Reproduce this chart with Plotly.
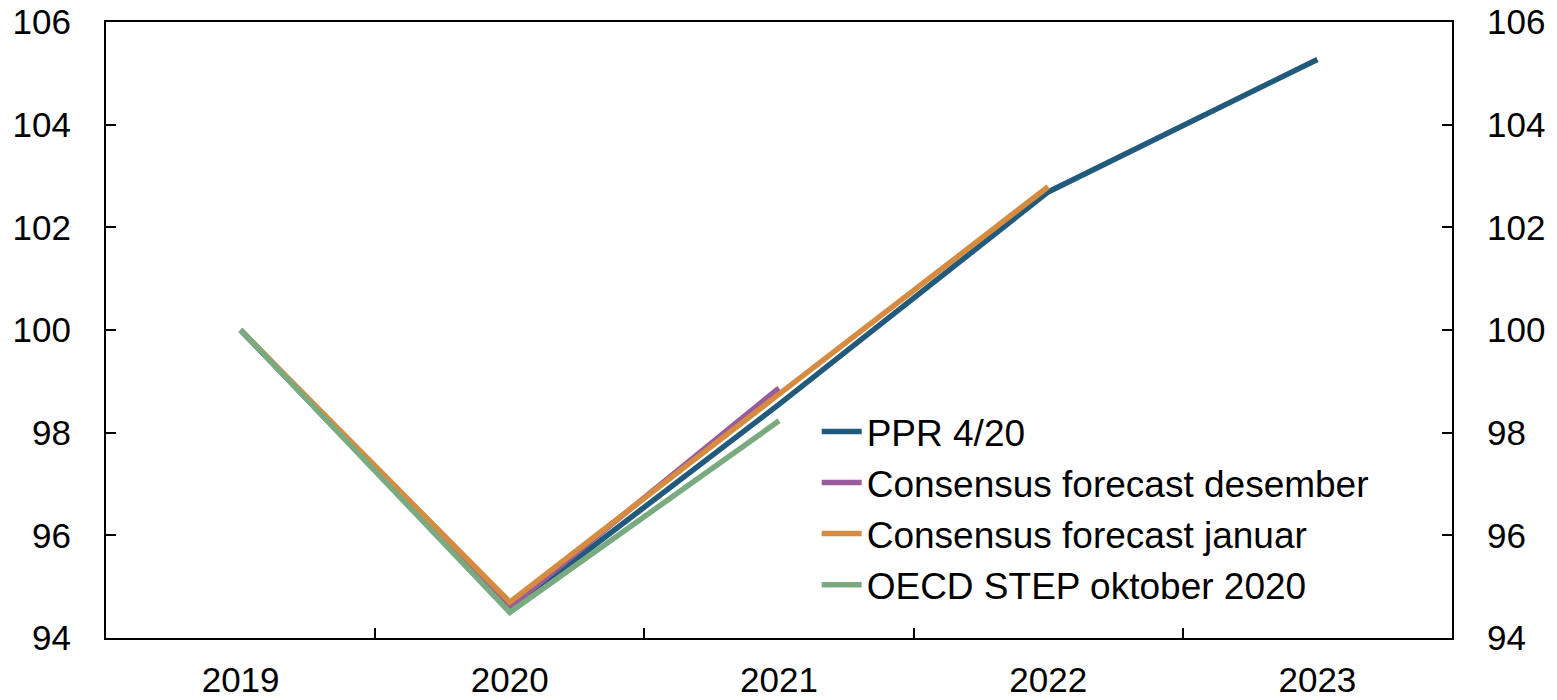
import plotly.graph_objects as go

years = ["2019", "2020", "2021", "2022", "2023"]
ppr = [100.0, 94.55, 98.55, 102.69, 105.27]
cons_des = [100.0, 94.6, 98.87]
cons_jan = [100.0, 94.7, 98.75, 102.79]
oecd = [100.0, 94.5, 98.23]
yticks = [94, 96, 98, 100, 102, 104, 106]

names = ["PPR 4/20", "Consensus forecast desember", "Consensus forecast januar", "OECD STEP oktober 2020"]
colors = ["#215a7b", "#9a5b9c", "#d68c40", "#7aab80"]
series = [ppr, cons_des, cons_jan, oecd]

fig = go.Figure()
for i, (n, c, s) in enumerate(zip(names, colors, series)):
    fig.add_trace(go.Scatter(x=years[:len(s)], y=s, name=n, mode="lines",
                             line=dict(color=c, width=5.5), legendgroup=str(i)))

font = dict(family="Liberation Sans, Arial", size=35, color="#000000")
legfont = dict(family="Liberation Sans, Arial", size=37, color="#000000")
yax = dict(range=[94, 106], tickvals=yticks, ticks="inside", ticklen=10,
           tickwidth=1.5, tickcolor="black", showline=True, linecolor="black",
           linewidth=2, showgrid=False, zeroline=False, ticklabelstandoff=26,
           automargin=False, ticklabeloverflow="allow")
fig.update_layout(
    width=1557, height=700,
    margin=dict(l=106, r=105, t=22, b=62),
    plot_bgcolor="white", paper_bgcolor="white",
    font=font,
    showlegend=True,
    legend=dict(x=0.528, y=0.385, xanchor="left", yanchor="top",
                bgcolor="rgba(0,0,0,0)", font=legfont, tracegroupgap=0,
                traceorder="grouped", itemwidth=40),
    xaxis=dict(type="category", range=[-0.5, 4.5], tickson="boundaries",
               ticks="inside", ticklen=10, tickwidth=1.5, tickcolor="black",
               showline=True, linecolor="black", linewidth=2, mirror=True,
               showgrid=False, ticklabelstandoff=10, automargin=False,
               ticklabeloverflow="allow"),
    yaxis=yax,
    yaxis2=dict(yax, overlaying="y", side="right"),
)
fig.add_trace(go.Scatter(x=years, y=[None]*5, yaxis="y2", showlegend=False,
                         hoverinfo="skip", mode="lines"))
fig.write_html("out.html", config={"displayModeBar": False},
               post_script="document.body.style.margin='0px';")
